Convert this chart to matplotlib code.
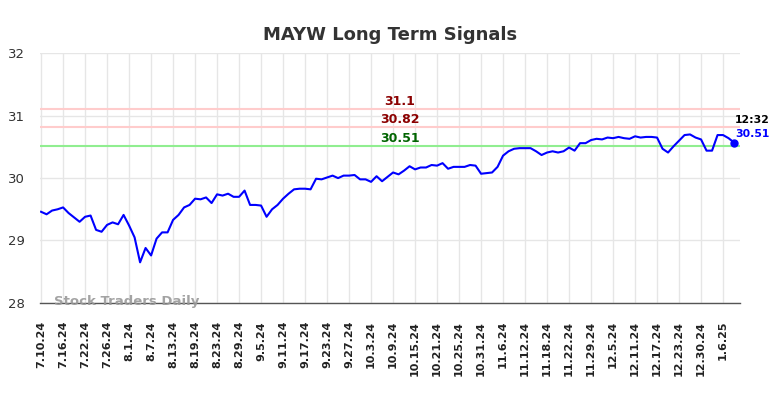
import matplotlib.pyplot as plt
import numpy as np

# closing prices, one per trading day from 7.10.24
prices = [
    29.46, 29.42, 29.48, 29.50, 29.53, 29.44, 29.37, 29.30, 29.38, 29.40,
    29.17, 29.14, 29.25, 29.29, 29.26, 29.41, 29.24, 29.05, 28.65, 28.88,
    28.76, 29.03, 29.13, 29.13, 29.33, 29.41, 29.53, 29.57, 29.67, 29.66,
    29.69, 29.60, 29.74, 29.72, 29.75, 29.70, 29.70, 29.80, 29.57, 29.57,
    29.56, 29.38, 29.50, 29.57, 29.67, 29.75, 29.82, 29.83, 29.83, 29.82,
    29.99, 29.98, 30.01, 30.04, 30.00, 30.04, 30.04, 30.05, 29.98, 29.98,
    29.94, 30.03, 29.95, 30.02, 30.09, 30.06, 30.12, 30.19, 30.14, 30.17,
    30.17, 30.21, 30.20, 30.24, 30.15, 30.18, 30.18, 30.18, 30.21, 30.20,
    30.07, 30.08, 30.09, 30.18, 30.36, 30.43, 30.47, 30.48, 30.48, 30.48,
    30.43, 30.37, 30.41, 30.43, 30.41, 30.43, 30.49, 30.44, 30.56, 30.56,
    30.61, 30.63, 30.62, 30.65, 30.64, 30.66, 30.64, 30.63, 30.67, 30.65,
    30.66, 30.66, 30.65, 30.47, 30.41, 30.51, 30.60, 30.69, 30.70, 30.65,
    30.62, 30.44, 30.44, 30.69, 30.69, 30.64, 30.57,
]

tick_labels = [
    '7.10.24', '7.16.24', '7.22.24', '7.26.24', '8.1.24', '8.7.24', '8.13.24',
    '8.19.24', '8.23.24', '8.29.24', '9.5.24', '9.11.24', '9.17.24', '9.23.24',
    '9.27.24', '10.3.24', '10.9.24', '10.15.24', '10.21.24', '10.25.24',
    '10.31.24', '11.6.24', '11.12.24', '11.18.24', '11.22.24', '11.29.24',
    '12.5.24', '12.11.24', '12.17.24', '12.23.24', '12.30.24', '1.6.25',
]

resistance = [31.1, 30.82]
support = [30.51]
last_time = '12:32'
last_label = '30.51'

x = np.arange(len(prices))

fig = plt.figure(figsize=(7.84, 3.98), dpi=100)
ax = fig.add_axes([0.051, 0.239, 0.893, 0.627])

# grid
ax.set_xticks(np.arange(0, len(prices), 4))
ax.set_xticklabels(tick_labels, rotation=90, fontsize=8, fontweight='bold', color='#222222')
ax.set_yticks([28, 29, 30, 31, 32])
ax.set_yticklabels(['28', '29', '30', '31', '32'], fontsize=9.5, color='#333333')
ax.grid(True, color='#e6e6e6', linewidth=1)
ax.set_axisbelow(True)
ax.tick_params(axis='both', length=0)
ax.tick_params(axis='x', pad=13)
ax.tick_params(axis='y', pad=11)

for s in ['top', 'right', 'left']:
    ax.spines[s].set_visible(False)
ax.spines['bottom'].set_color('#555555')
ax.spines['bottom'].set_linewidth(1)

# signal lines
for r in resistance:
    ax.axhline(r, color='#ffcccc', linewidth=1.5, zorder=1)
    ax.annotate(str(r), xy=(0.514, r), xycoords=('axes fraction', 'data'),
                xytext=(0, 5.5), textcoords='offset points', ha='center', va='center',
                fontsize=9, fontweight='bold', color='#8b0000')
for s in support:
    ax.axhline(s, color='#90ee90', linewidth=1.5, zorder=1)
    ax.annotate(str(s), xy=(0.514, s), xycoords=('axes fraction', 'data'),
                xytext=(0, 5.5), textcoords='offset points', ha='center', va='center',
                fontsize=9, fontweight='bold', color='#006400')

# price line
ax.plot(x, prices, color='blue', linewidth=1.5, zorder=3)
ax.plot(x[-1], prices[-1], 'o', color='blue', markersize=5, zorder=4)

ax.annotate(last_time, xy=(x[-1], prices[-1]), xytext=(13, 16.5), textcoords='offset points',
            ha='center', va='center', fontsize=7.8, fontweight='bold', color='black')
ax.annotate(last_label, xy=(x[-1], prices[-1]), xytext=(13, 6.5), textcoords='offset points',
            ha='center', va='center', fontsize=7.8, fontweight='bold', color='blue')

ax.text(0.02, 0.005, 'Stock Traders Daily', transform=ax.transAxes, ha='left', va='center',
        fontsize=9.5, fontweight='bold', color='#999999', alpha=0.9)

ax.set_xlim(-0.2, 127.1)
ax.set_ylim(28, 32)

fig.suptitle('MAYW Long Term Signals', x=0.497, y=0.935, fontsize=13, fontweight='bold', color='#333333')

fig.savefig('out.png', dpi=100)
